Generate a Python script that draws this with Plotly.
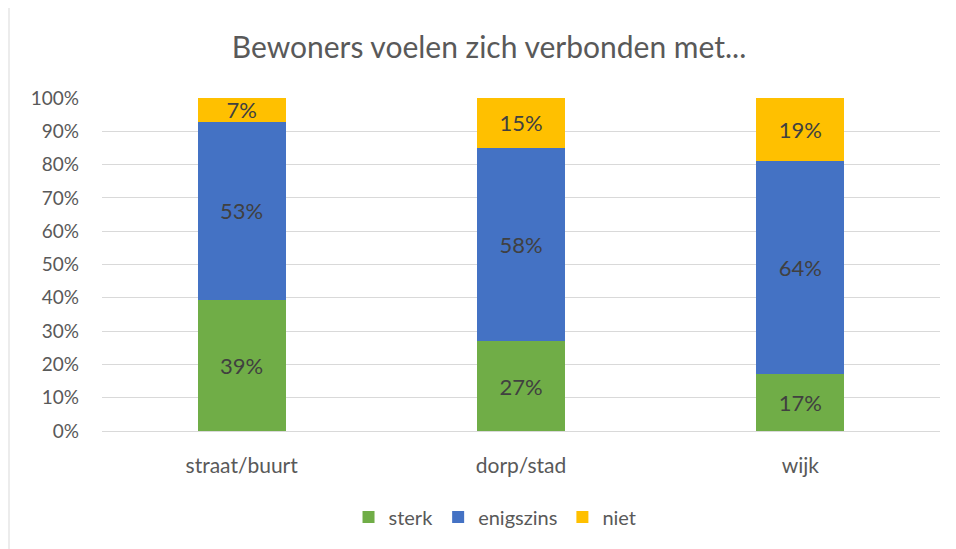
import plotly.graph_objects as go

categories = ["straat/buurt", "dorp/stad", "wijk"]
sterk = [39, 27, 17]
enigszins = [53, 58, 64]
niet = [7, 15, 19]
series = [("sterk", sterk, "#70AD47"), ("enigszins", enigszins, "#4472C4"), ("niet", niet, "#FFC000")]
y_ticks = list(range(0, 101, 10))
y_labels = [f"{v}%" for v in y_ticks]

FONT = "Lato"
fig = go.Figure()
for name, vals, color in series:
    fig.add_trace(go.Bar(
        x=categories, y=vals, name=name, marker_color=color, marker_line_width=0,
        text=[f"{v}%" for v in vals], textposition="inside", insidetextanchor="middle",
        textfont=dict(family=FONT, size=22, color="#404040"),
    ))

# page has 8px body margin -> figure coordinates are offset by 8px
fig.update_layout(
    barmode="stack", barnorm="percent", bargap=0.685,
    width=956, height=549,
    margin=dict(l=94, r=24, t=90, b=126),
    paper_bgcolor="white", plot_bgcolor="white",
    font=dict(family=FONT, size=20, color="#595959"),
    title=dict(text="Bewoners voelen zich verbonden met...", x=481 / 956, xanchor="center",
               xref="container",
               y=1 - 39 / 549, yanchor="middle",
               font=dict(family=FONT, size=30, color="#595959")),
    uniformtext=dict(minsize=22, mode="show"),
    legend=dict(orientation="h", x=0.469, xanchor="center",
                y=-0.258, yanchor="middle",
                font=dict(family=FONT, size=20, color="#595959"), traceorder="normal",
                itemwidth=30),
    showlegend=True,
)
fig.update_yaxes(range=[0, 100], tickvals=y_ticks, ticktext=y_labels, showgrid=True,
                 gridcolor="#D9D9D9", gridwidth=1, zeroline=False, showline=False,
                 ticklabelstandoff=22, tickfont=dict(family=FONT, size=19, color="#595959"))
fig.update_xaxes(showgrid=False, showline=True, linecolor="#D9D9D9", linewidth=1,
                 ticklabelstandoff=16, tickfont=dict(family=FONT, size=21, color="#595959"))

# outer chart border (partially cropped in the reference)
fig.add_shape(type="line", xref="paper", yref="paper", x0=-93 / 838, x1=-93 / 838,
              y0=1 + 93 / 333, y1=-0.5, line=dict(color="#D9D9D9", width=1))
fig.add_shape(type="line", xref="paper", yref="paper", x0=-93 / 838, x1=1.2,
              y0=1 + 93 / 333, y1=1 + 93 / 333, line=dict(color="#D9D9D9", width=1))

fig.write_html("out.html")
